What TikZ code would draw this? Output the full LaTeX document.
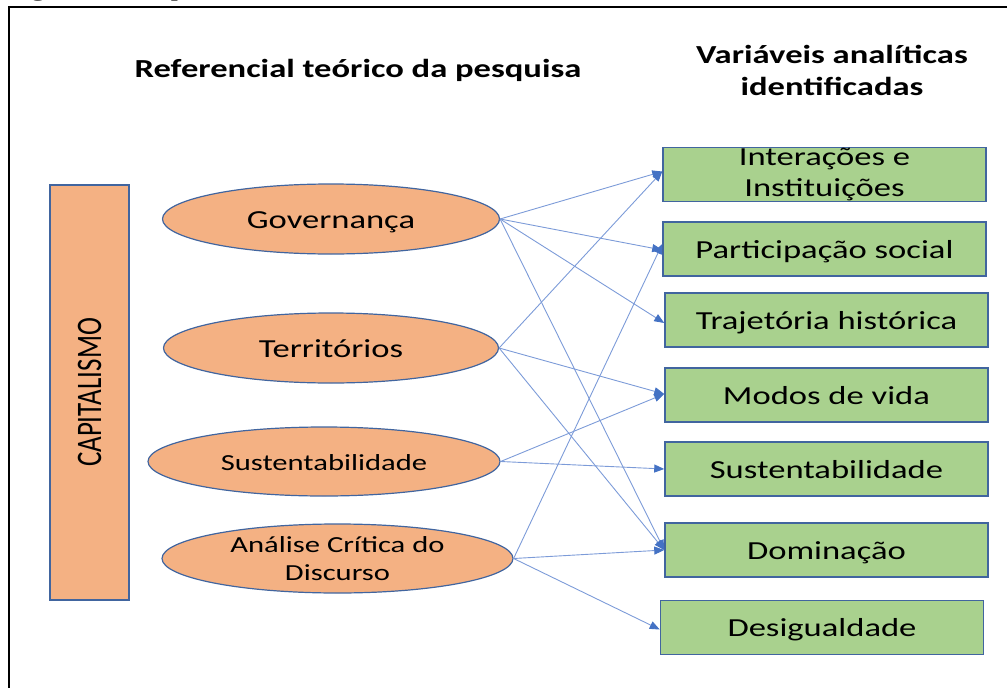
\documentclass[tikz,border=0pt]{standalone}
\usepackage{graphicx}
\usepackage{fontspec}
\setmainfont{Carlito}
\newfontfamily\capfont{Liberation Serif}
\usetikzlibrary{arrows.meta,shapes.geometric,calc}
\newcommand{\sx}[1]{\scalebox{1.33}[1]{#1}}
\definecolor{orangefill}{HTML}{F4B183}
\definecolor{greenfill}{HTML}{A9D18E}
\definecolor{shapeline}{HTML}{41659F}
\definecolor{arrowline}{HTML}{7C9BD8}
\definecolor{arrowtip}{HTML}{4472C4}
\tikzset{
  ell/.style={ellipse, draw=shapeline, fill=orangefill, line width=1.2pt, inner sep=0pt},
  gbox/.style={rectangle, draw=shapeline, fill=greenfill, line width=1.5pt, inner sep=0pt,
    minimum width=323pt, minimum height=54pt},
  big/.style={font=\fontsize{26}{31}\selectfont},
  small/.style={font=\fontsize{23}{28}\selectfont},
  one/.style={text height=18pt, text depth=0pt},
  title/.style={font=\fontsize{26}{32}\selectfont\bfseries, align=center},
  conn/.style={draw=arrowline, line width=0.9pt,
    -{Triangle[length=10pt,width=8pt,color=arrowtip]}}
}
\begin{document}
\begin{tikzpicture}[x=1pt,y=-1pt]
\useasboundingbox (0,0) rectangle (1007,688);
% clipped caption and frame
\node[anchor=base west, inner sep=0pt, font=\capfont\fontsize{21.6}{24}\selectfont] (cap) at (7,-3) {\sx{Figura 3 – Mapa da análise do discurso}};
\coordinate (fa) at (9,700);
\coordinate (fb) at (9,6.5);
\coordinate (fc) at (1020,6.5);
\draw[line width=2pt, line cap=rect] (fa) -- (fb) -- (fc);
% titles
\node[title, anchor=base] (t1) at (358,77) {\sx{Referencial teórico da pesquisa}};
\node[title] (t2) at (832,70) {\sx{Variáveis analíticas}\\[0pt]\sx{identificadas}};
% capitalismo
\node[rectangle, draw=shapeline, fill=orangefill, line width=1.2pt, inner sep=0pt,
  minimum width=79pt, minimum height=415pt, font=\fontsize{27}{30}\selectfont] (cap2) at (89.5,392.5)
  {\scalebox{1.33}[1]{\rotatebox{90}{CAPITALISMO}}};
% ellipses
\node[ell, big, one, minimum width=337pt, minimum height=70pt] (gov) at (331,219) {\sx{Governança}};
\node[ell, big, one, minimum width=335pt, minimum height=70pt] (ter) at (331,348) {\sx{Territórios}};
\node[ell, small, one, minimum width=352pt, minimum height=69pt] (sus) at (324,461.5) {\sx{Sustentabilidade}};
\node[ell, small, align=center, minimum width=351pt, minimum height=69pt] (acd) at (337.5,558.5) {\sx{Análise Crítica do}\\\sx{Discurso}};
% green boxes
\node[gbox, big, align=center, inner ysep=0pt] (v1) at (824.5,174.5) {\sx{Interações e}\\\sx{Instituições}};
\node[gbox, big, one] (v2) at (824.5,249) {\sx{Participação social}};
\node[gbox, big, one] (v3) at (826.5,320) {\sx{Trajetória histórica}};
\node[gbox, big, one] (v4) at (826.5,395) {\sx{Modos de vida}};
\node[gbox, big, one] (v5) at (826.5,469) {\sx{Sustentabilidade}};
\node[gbox, big, one] (v6) at (826.5,550) {\sx{Dominação}};
\node[gbox, big, one] (v7) at (822,627.5) {\sx{Desigualdade}};
% connectors
\draw[conn] (gov.east) -- ([yshift=3pt]v1.west);
\draw[conn] (gov.east) -- ([yshift=-1pt]v2.west);
\draw[conn] (gov.east) -- ([yshift=-3pt]v3.west);
\draw[conn] (gov.east) -- (v6.west);
\draw[conn] (ter.east) -- ([yshift=3pt]v1.west);
\draw[conn] (ter.east) -- ([yshift=1pt]v4.west);
\draw[conn] (ter.east) -- (v6.west);
\draw[conn] (sus.east) -- ([yshift=1pt]v4.west);
\draw[conn] (sus.east) -- (v5.west);
\draw[conn] (acd.east) -- ([yshift=5pt]v2.west);
\draw[conn] (acd.east) -- (v6.west);
\draw[conn] (acd.east) -- ([yshift=-2pt]v7.west);
\end{tikzpicture}
\end{document}
